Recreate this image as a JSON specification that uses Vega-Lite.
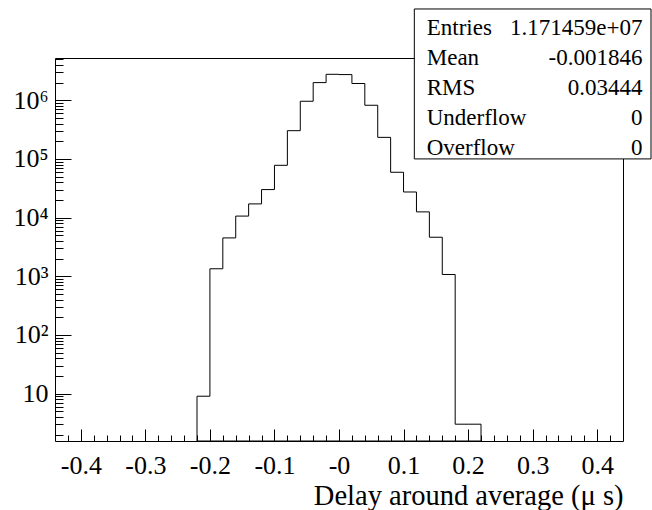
{
  "$schema": "https://vega.github.io/schema/vega-lite/v6.json",
  "width": 568,
  "height": 383,
  "autosize": {"type": "none"},
  "padding": {"left": 55, "top": 58, "right": 29, "bottom": 69},
  "background": "white",
  "config": {
    "view": {"stroke": null},
    "font": "Liberation Serif",
    "axis": {
      "grid": false,
      "labelFont": "Liberation Serif",
      "labelColor": "black",
      "tickColor": "black",
      "domainColor": "black",
      "titleFont": "Liberation Serif",
      "titleColor": "black",
      "titleFontWeight": "normal",
      "labelFontSize": 26,
      "titleFontSize": 28.5,
      "labelOverlap": false,
      "labelFlush": false,
      "tickWidth": 1,
      "domainWidth": 1
    }
  },
  "datasets": {
    "hist": [
      {"edge": -0.22, "count": 9},
      {"edge": -0.20, "count": 1340},
      {"edge": -0.18, "count": 4500},
      {"edge": -0.16, "count": 10600},
      {"edge": -0.14, "count": 17100},
      {"edge": -0.12, "count": 30000},
      {"edge": -0.10, "count": 77800},
      {"edge": -0.08, "count": 303000},
      {"edge": -0.06, "count": 962000},
      {"edge": -0.04, "count": 2000000},
      {"edge": -0.02, "count": 2770000},
      {"edge": 0.00, "count": 2740000},
      {"edge": 0.02, "count": 1930000},
      {"edge": 0.04, "count": 822000},
      {"edge": 0.06, "count": 233000},
      {"edge": 0.08, "count": 59200},
      {"edge": 0.10, "count": 27300},
      {"edge": 0.12, "count": 12500},
      {"edge": 0.14, "count": 4620},
      {"edge": 0.16, "count": 1070},
      {"edge": 0.18, "count": 3},
      {"edge": 0.20, "count": 3},
      {"edge": 0.22, "count": 3}
    ],
    "stats": [
      {"labels": ["Entries", "Mean", "RMS", "Underflow", "Overflow"],
       "values": ["1.171459e+07", "-0.001846", "0.03444", "0", "0"]}
    ]
  },
  "layer": [
    {
      "data": {"name": "hist"},
      "mark": {"type": "area", "interpolate": "step-after", "fillOpacity": 0, "stroke": "black", "strokeWidth": 1},
      "encoding": {
        "x": {
          "field": "edge", "type": "quantitative",
          "scale": {"domain": [-0.44, 0.44], "nice": false, "zero": false},
          "axis": {
            "orient": "bottom",
            "values": [-0.4, -0.3, -0.2, -0.1, 0, 0.1, 0.2, 0.3, 0.4],
            "format": ".1f",
            "labelExpr": "datum.value == 0 ? '-0' : replace(datum.label, '\u2212', '-')",
            "tickSize": -12,
            "labelPadding": 44,
            "labelBaseline": "alphabetic",
            "domain": true,
            "title": "Delay around average (μ s)",
            "titleX": 568,
            "titleY": 63,
            "titleAlign": "right",
            "titleAnchor": "end",
            "titleBaseline": "alphabetic",
            "titleAngle": 0
          }
        },
        "y": {
          "field": "count", "type": "quantitative",
          "scale": {"type": "log", "domain": [1.551, 5255000], "nice": false},
          "axis": {
            "orient": "left",
            "values": [10, 100, 1000, 10000, 100000, 1000000],
            "labelExpr": "datum.value < 50 ? '10' : '10' + ['', '', '²', '³', '⁴', '⁵', '⁶'][round(log(datum.value) / LN10)]",
            "tickSize": -16,
            "labelPadding": 23,
            "labelAlign": "right",
            "labelBaseline": "middle",
            "domain": true,
            "title": null
          }
        },
        "y2": {"datum": 1.551}
      }
    },
    {
      "data": {"name": "hist"},
      "mark": {"type": "point", "opacity": 0, "size": 0},
      "encoding": {
        "x": {
          "field": "edge", "type": "quantitative",
          "scale": {"domain": [-0.44, 0.44], "nice": false, "zero": false},
          "axis": {
            "orient": "bottom",
            "values": [-0.42, -0.38, -0.36, -0.34, -0.32, -0.28, -0.26, -0.24, -0.22, -0.18, -0.16, -0.14, -0.12, -0.08, -0.06, -0.04, -0.02, 0.02, 0.04, 0.06, 0.08, 0.12, 0.14, 0.16, 0.18, 0.22, 0.24, 0.26, 0.28, 0.32, 0.34, 0.36, 0.38, 0.42],
            "tickSize": -6,
            "labels": false,
            "domain": false,
            "title": null
          }
        },
        "y": {
          "field": "count", "type": "quantitative",
          "scale": {"type": "log", "domain": [1.551, 5255000], "nice": false},
          "axis": {
            "orient": "left",
            "values": [2, 3, 4, 5, 6, 7, 8, 9, 20, 30, 40, 50, 60, 70, 80, 90, 200, 300, 400, 500, 600, 700, 800, 900, 2000, 3000, 4000, 5000, 6000, 7000, 8000, 9000, 20000, 30000, 40000, 50000, 60000, 70000, 80000, 90000, 200000, 300000, 400000, 500000, 600000, 700000, 800000, 900000, 2000000, 3000000, 4000000, 5000000],
            "tickSize": -8,
            "labels": false,
            "domain": false,
            "title": null
          }
        }
      }
    },
    {
      "data": {"name": "stats"},
      "mark": {"type": "rect", "fill": "white", "stroke": "black", "strokeWidth": 1},
      "encoding": {
        "x": {
          "datum": 0.1167, "type": "quantitative",
          "scale": {"domain": [-0.44, 0.44], "nice": false, "zero": false},
          "axis": {"orient": "top", "ticks": false, "labels": false, "domain": true, "title": null}
        },
        "x2": {"datum": 0.4834},
        "y": {
          "datum": 36000000, "type": "quantitative",
          "scale": {"type": "log", "domain": [1.551, 5255000], "nice": false},
          "axis": {"orient": "right", "ticks": false, "labels": false, "domain": true, "title": null}
        },
        "y2": {"datum": 100000}
      }
    },
    {
      "data": {"name": "stats"},
      "mark": {"type": "text", "align": "left", "baseline": "alphabetic", "fontSize": 23, "lineHeight": 30, "font": "Liberation Serif", "color": "black"},
      "encoding": {
        "x": {"datum": 0.1359, "type": "quantitative", "axis": null},
        "y": {"datum": 12970000, "type": "quantitative", "axis": null},
        "text": {"field": "labels"}
      }
    },
    {
      "data": {"name": "stats"},
      "mark": {"type": "text", "align": "right", "baseline": "alphabetic", "fontSize": 23, "lineHeight": 30, "font": "Liberation Serif", "color": "black"},
      "encoding": {
        "x": {"datum": 0.4702, "type": "quantitative", "axis": null},
        "y": {"datum": 12970000, "type": "quantitative", "axis": null},
        "text": {"field": "values"}
      }
    }
  ],
  "resolve": {"axis": {"x": "independent", "y": "independent"}}
}
